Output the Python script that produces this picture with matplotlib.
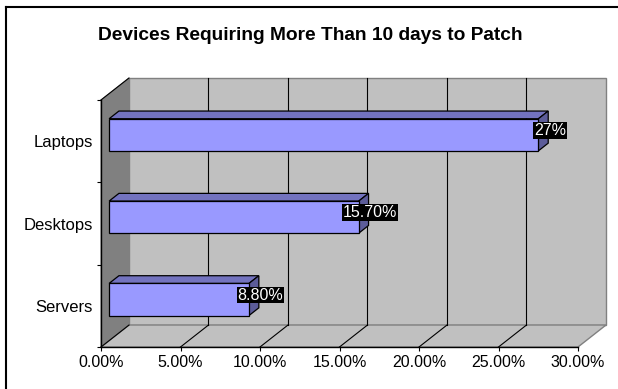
import matplotlib
matplotlib.use("Agg")
import matplotlib.pyplot as plt
from matplotlib.patches import Polygon
from matplotlib.lines import Line2D

plt.rcParams['font.family'] = ['Liberation Sans', 'DejaVu Sans']

devices = ["Servers", "Desktops", "Laptops"]
percent = [8.8, 15.7, 27.0]
labels = ["8.80%", "15.70%", "27%"]
xticks = [0, 5, 10, 15, 20, 25, 30]

# fake 3d depth, in data units
DX = 1.761
DY = 0.267


def P(x, y, d):
    return (x + d * DX, y + d * DY)


fig = plt.figure(figsize=(6.18, 3.89), dpi=100)
ax = fig.add_axes([101 / 618, 42 / 389, 477 / 618, 247 / 389])
ax.set_xlim(0, 30)
ax.set_ylim(0, 3)
ax.patch.set_visible(False)
for s in ["top", "right"]:
    ax.spines[s].set_visible(False)
for s in ["left", "bottom"]:
    ax.spines[s].set_linewidth(1.0)
    ax.spines[s].set_zorder(6)

# walls and floor
back = Polygon([P(0, 0, 1), P(30, 0, 1), P(30, 3, 1), P(0, 3, 1)],
               closed=True, fc="#C0C0C0", ec="#808080", lw=1, clip_on=False, zorder=1)
floor = Polygon([P(0, 0, 0), P(30, 0, 0), P(30, 0, 1), P(0, 0, 1)],
                closed=True, fc="#C0C0C0", ec="#808080", lw=1, clip_on=False, zorder=1)
side = Polygon([P(0, 0, 0), P(0, 0, 1), P(0, 3, 1), P(0, 3, 0)],
               closed=True, fc="#808080", ec="#808080", lw=0.8, clip_on=False, zorder=1)
ax.add_patch(back)
ax.add_patch(floor)
ax.add_patch(side)
ax.plot(*zip(P(0, 3, 0), P(0, 3, 1)), color="black", lw=0.8, clip_on=False, zorder=2)
ax.plot(*zip(P(0, 0, 0), P(0, 0, 1)), color="black", lw=0.8, clip_on=False, zorder=2)

# gridlines
for x in xticks[1:-1]:
    ax.plot(*zip(P(x, 0, 1), P(x, 3, 1)), color="black", lw=0.8, clip_on=False, zorder=2)
    ax.plot(*zip(P(x, 0, 0), P(x, 0, 1)), color="black", lw=0.8, clip_on=False, zorder=2)

# bars
d0, d1, h = 0.29, 0.64, 0.195
for i, v in enumerate(percent):
    c = i + 0.5
    front = Polygon([P(0, c - h, d0), P(v, c - h, d0), P(v, c + h, d0), P(0, c + h, d0)],
                    closed=True, fc="#9999FF", ec="black", lw=0.9, clip_on=False, zorder=3)
    top = Polygon([P(0, c + h, d0), P(v, c + h, d0), P(v, c + h, d1), P(0, c + h, d1)],
                  closed=True, fc="#7373BF", ec="black", lw=0.9, clip_on=False, zorder=3)
    end = Polygon([P(v, c - h, d0), P(v, c + h, d0), P(v, c + h, d1), P(v, c - h, d1)],
                  closed=True, fc="#5C5C99", ec="black", lw=0.9, clip_on=False, zorder=3)
    ax.add_patch(top)
    ax.add_patch(end)
    ax.add_patch(front)
    ax.text(v + 0.7 * DX, c + 0.13, labels[i], color="white", fontsize=11.5,
            ha="center", va="center", zorder=5,
            bbox=dict(boxstyle="square,pad=0.05", fc="black", ec="none"))

ax.set_xticks(xticks)
ax.set_xticklabels(["%.2f%%" % x for x in xticks], fontsize=11.5)
ax.set_yticks([0, 1, 2, 3])
ax.set_yticklabels([])
ax.set_yticks([0.5, 1.5, 2.5], minor=True)
ax.set_yticklabels(devices, minor=True, fontsize=12)
ax.tick_params(axis="x", length=3, width=0.8, pad=3)
ax.tick_params(axis="y", which="major", length=3, width=0.8)
ax.tick_params(axis="y", which="minor", length=0, pad=6)

fig.text(310 / 618, 1 - 35 / 389, "Devices Requiring More Than 10 days to Patch",
         fontsize=13.8, fontweight="bold", ha="center", va="center")

# chart border (left and top edges show)
fig.add_artist(Line2D([6 / 618, 6 / 618], [0, 1 - 7 / 389], color="black", lw=1.5))
fig.add_artist(Line2D([6 / 618, 1], [1 - 7 / 389, 1 - 7 / 389], color="black", lw=1.5))

fig.savefig("out.png", dpi=100)
